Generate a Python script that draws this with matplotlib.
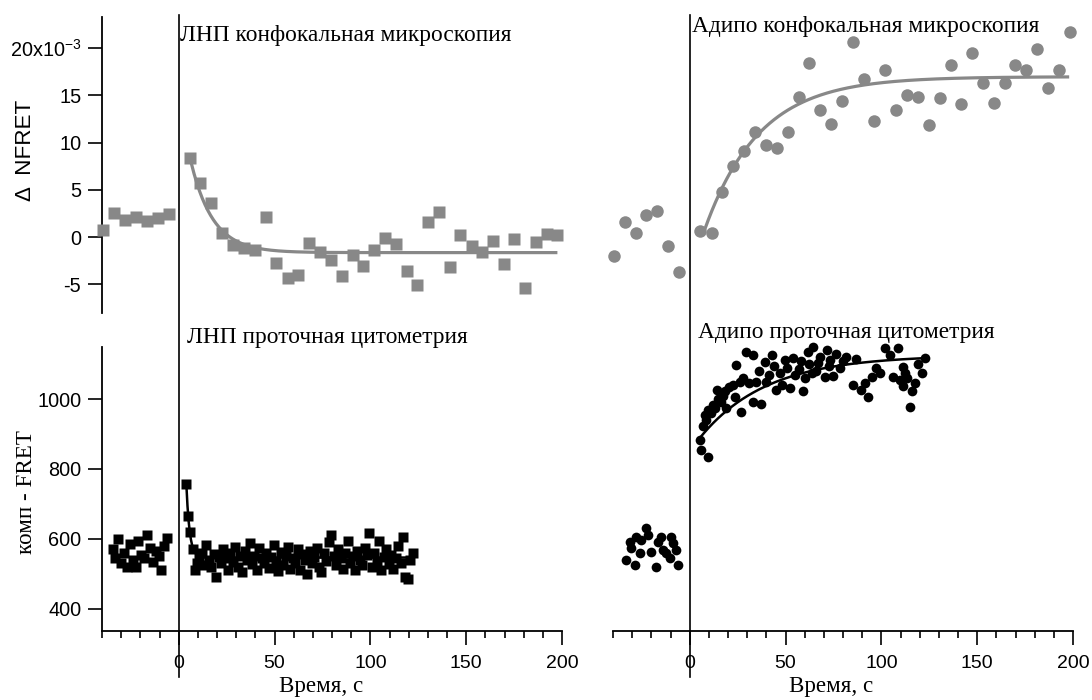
import numpy as np
import matplotlib
matplotlib.use("Agg")
import matplotlib.pyplot as plt
from matplotlib.lines import Line2D
from matplotlib.transforms import blended_transform_factory
from matplotlib.ticker import MultipleLocator, FixedLocator, FixedFormatter

# ---------------- data ----------------
# top-left: LDL confocal (units of 1e-3)
ldl_conf_pre_x = [-39.6, -33.9, -28.1, -22.4, -16.7, -10.9, -5.2]
ldl_conf_pre_y = [0.74, 2.5, 1.8, 2.1, 1.7, 2.0, 2.4]
ldl_conf_x = [5.7, 11.3, 16.8, 22.6, 28.3, 34.0, 39.9, 45.5, 51.0, 56.8, 62.3, 67.9,
              73.6, 79.3, 85.0, 90.8, 96.4, 102.1, 107.6, 113.3, 118.9, 124.6, 130.2,
              135.8, 141.5, 147.0, 152.8, 158.3, 164.1, 169.6, 175.2, 180.9, 186.5,
              192.0, 197.6]
ldl_conf_y = [8.4, 5.7, 3.6, 0.4, -0.8, -1.2, -1.4, 2.1, -2.8, -4.3, -4.0, -0.6,
              -1.6, -2.4, -4.1, -1.9, -3.1, -1.4, -0.1, -0.7, -3.6, -5.1, 1.6,
              2.6, -3.2, 0.2, -0.95, -1.55, -0.4, -2.9, -0.25, -5.4, -0.5,
              0.3, 0.2]
ldl_conf_fit = dict(x0=6.6, x1=197.6, plateau=-1.65, amp=9.45, tau=11.5)

# top-right: Adipo confocal (units of 1e-3)
adi_conf_pre_x = [-39.7, -33.9, -28.2, -22.6, -16.9, -11.1, -5.6]
adi_conf_pre_y = [-2.0, 1.6, 0.45, 2.3, 2.8, -0.9, -3.7]
adi_conf_x = [5.2, 11.5, 17.1, 22.6, 28.4, 34.3, 39.7, 45.6, 51.4, 56.9, 62.1, 68.0,
              73.8, 79.5, 85.3, 90.9, 96.4, 102.0, 107.9, 113.5, 119.2, 124.8, 130.4,
              136.1, 141.7, 147.4, 153.2, 158.7, 164.5, 169.9, 175.7, 181.4, 187.1,
              192.7, 198.4]
adi_conf_y = [0.67, 0.45, 4.8, 7.5, 9.1, 11.1, 9.7, 9.45, 11.1, 14.8, 18.4, 13.4,
              12.0, 14.4, 20.6, 16.7, 12.3, 17.7, 13.4, 15.0, 14.8, 11.8, 14.7,
              18.2, 14.1, 19.5, 16.3, 14.2, 16.3, 18.2, 17.7, 19.9, 15.8,
              17.7, 21.7]
adi_conf_fit = dict(x0=7.8, x1=198.0, plateau=16.96, amp=-16.2, tau=28.5)

# bottom-left: LDL flow cytometry
ldl_flow_pre_x = [-34.5, -33.0, -31.5, -30.0, -28.5, -27.0, -25.5, -24.0, -22.5, -21.0,
                  -19.5, -18.0, -16.5, -15.0, -13.5, -12.0, -10.5, -9.0, -7.5, -6.0]
ldl_flow_pre_y = [570, 545, 600, 530, 560, 520, 585, 540, 520, 595,
                  555, 545, 612, 575, 535, 565, 550, 510, 580, 603]
ldl_flow_x = [4.0, 4.9, 6.1, 7.4, 8.7, 9.5, 10.8, 12.0, 13.2, 14.5, 15.8, 17.0, 18.3,
              19.6, 20.8, 22.0, 23.3, 24.6, 25.8, 27.0, 28.3, 29.5, 30.8, 32.0, 33.3,
              34.5, 35.8, 37.0, 38.3, 39.5, 40.8, 42.0, 43.3, 44.5, 45.8, 47.0, 48.3,
              49.5, 50.8, 52.0, 53.3, 54.5, 55.8, 57.0, 58.3, 59.5, 60.8, 62.0, 63.3,
              64.5, 65.8, 67.0, 68.3, 69.5, 70.8, 72.0, 73.3, 74.5, 75.8, 77.0, 78.3,
              79.5, 80.8, 82.0, 83.3, 84.5, 85.8, 87.0, 88.3, 89.5, 90.8, 92.0, 93.3,
              94.5, 95.8, 97.0, 98.3, 99.5, 100.8, 102.0, 103.3, 104.5, 105.8, 107.0,
              108.3, 109.5, 110.8, 112.0, 113.3, 114.5, 115.8, 117.0, 118.3, 119.5,
              120.8, 122.0]
ldl_flow_y = [757, 667, 621, 571, 511, 530, 545, 560, 525, 583, 540, 520, 556,
              491, 548, 530, 570, 545, 512, 560, 535, 578, 520, 552, 505,
              565, 540, 588, 528, 550, 512, 575, 545, 530, 560, 518, 548,
              582, 535, 508, 563, 527, 552, 578, 515, 545, 530, 570, 512,
              558, 540, 500, 565, 532, 548, 575, 520, 505, 560, 538, 590,
              612, 550, 525, 570, 545, 515, 560, 595, 530, 550, 510, 565,
              540, 525, 575, 555, 617, 520, 560, 535, 595, 512, 548,
              570, 528, 555, 515, 545, 580, 530, 605, 490, 485,
              540, 560]
ldl_flow_fit = dict(x0=4.0, x1=123.0, plateau=547.0, amp=210.0, tau=1.7)

# bottom-right: Adipo flow cytometry
adi_flow_pre_x = [-33.0, -31.3, -30.4, -28.7, -27.8, -26.1, -25.2, -22.6, -21.8, -20.0,
                  -17.4, -16.5, -14.8, -13.9, -12.2, -10.4, -9.6, -8.7, -6.9, -6.1]
adi_flow_pre_y = [540, 592, 573, 526, 607, 559, 597, 631, 611, 564,
                  521, 592, 607, 569, 559, 545, 607, 588, 569, 526]
adi_flow_x = [5.2, 6.1, 7.0, 7.8, 8.5, 9.6, 9.6, 11.0, 12.2, 13.0, 14.0, 15.0, 16.5,
              17.5, 18.3, 19.2, 20.5, 22.6, 23.5, 24.4, 26.0, 27.0, 27.8, 29.6, 31.0,
              33.0, 33.0, 34.8, 36.0, 37.4, 39.2, 40.0, 41.5, 42.7, 44.0, 45.3, 47.0,
              48.0, 49.6, 51.0, 52.2, 54.0, 54.8, 57.0, 58.0, 59.2, 60.0, 61.8, 62.5,
              63.6, 64.4, 66.0, 67.0, 67.9, 70.5, 71.4, 72.5, 73.1, 75.0, 76.6, 78.3,
              80.0, 81.8, 85.3, 87.0, 89.6, 91.4, 93.1, 94.9, 97.0, 99.2, 101.8, 104.4,
              106.2, 108.8, 109.7, 111.4, 111.4, 112.3, 113.2, 115.0, 115.9, 117.5,
              119.0, 121.0, 122.7]
adi_flow_y = [883, 854, 923, 954, 940, 833, 969, 960, 983, 975, 1026, 1000, 992,
              1010, 1024, 974, 1035, 1040, 1005, 1097, 1050, 964, 1059, 1135, 1045,
              1126, 992, 1049, 1080, 987, 1107, 1049, 1070, 1126, 1095, 1026, 1074,
              1040, 1111, 1090, 1031, 1116, 1069, 1085, 1110, 1024, 1059, 1135, 1100,
              1074, 1149, 1080, 1102, 1121, 1064, 1140, 1095, 1111, 1065, 1130, 1088,
              1110, 1121, 1040, 1115, 1026, 1045, 1005, 1064, 1090, 1074, 1145, 1126,
              1064, 1145, 1054, 1092, 1036, 1074, 1059, 976, 1024, 1045,
              1100, 1074, 1116]
adi_flow_fit = dict(x0=5.2, x1=122.7, plateau=1125.0, amp=-237.0, tau=35.0)

x_major = [0, 50, 100, 150, 200]
x_labels = ["0", "50", "100", "150", "200"]
top_yticks = [-5, 0, 5, 10, 15, 20]
top_ylabels = ["-5", "0", "5", "10", "15", "20x10$^{\\mathregular{-3}}$"]
bot_yticks = [400, 600, 800, 1000]

# ---------------- styling ----------------
plt.rcParams["font.family"] = ["Liberation Sans", "DejaVu Sans"]
plt.rcParams["mathtext.fontset"] = "custom"
plt.rcParams["mathtext.rm"] = "Liberation Sans"
plt.rcParams["mathtext.it"] = "Liberation Sans"
plt.rcParams["mathtext.bf"] = "Liberation Sans"
SERIF = ["Liberation Serif", "DejaVu Serif"]
GRAY = "#888888"

W, H = 1092, 700
fig = plt.figure(figsize=(W / 100, H / 100), dpi=100)


def box(l, t, r, b):
    return [l / W, 1 - b / H, (r - l) / W, (b - t) / H]


ax_tl = fig.add_axes(box(102, 17, 562, 313))
ax_bl = fig.add_axes(box(102, 347, 562, 631))
ax_tr = fig.add_axes(box(613, 17, 1073, 313))
ax_br = fig.add_axes(box(613, 347, 1073, 631))

XLIM = (-40, 200)
TOP_YLIM = (-8.04, 23.28)
BOT_YLIM = (337.1, 1148.6)


def fit_curve(ax, p, color, lw):
    xs = np.linspace(p["x0"], p["x1"], 400)
    ys = p["plateau"] + p["amp"] * np.exp(-(xs - p["x0"]) / p["tau"])
    ax.plot(xs, ys, color=color, lw=lw, zorder=2, solid_capstyle="butt")


for ax in (ax_tl, ax_bl, ax_tr, ax_br):
    ax.set_xlim(*XLIM)
    ax.patch.set_alpha(0)
    for s in ax.spines.values():
        s.set_visible(False)
        s.set_linewidth(1.3)

for ax in (ax_tl, ax_tr):
    ax.set_ylim(*TOP_YLIM)
for ax in (ax_bl, ax_br):
    ax.set_ylim(*BOT_YLIM)

mk = dict(mec="none", zorder=3, clip_on=False, ls="none")
# top-left
ax_tl.plot(ldl_conf_pre_x, ldl_conf_pre_y, "s", color=GRAY, ms=9, **mk)
ax_tl.plot(ldl_conf_x, ldl_conf_y, "s", color=GRAY, ms=9, **mk)
fit_curve(ax_tl, ldl_conf_fit, GRAY, 2.3)
# top-right
ax_tr.plot(adi_conf_pre_x, adi_conf_pre_y, "o", color=GRAY, ms=9, **mk)
ax_tr.plot(adi_conf_x, adi_conf_y, "o", color=GRAY, ms=9, **mk)
fit_curve(ax_tr, adi_conf_fit, GRAY, 2.3)
# bottom-left
ax_bl.plot(ldl_flow_pre_x, ldl_flow_pre_y, "s", color="black", ms=6.8, **mk)
ax_bl.plot(ldl_flow_x, ldl_flow_y, "s", color="black", ms=6.8, **mk)
fit_curve(ax_bl, ldl_flow_fit, "black", 1.8)
# bottom-right
ax_br.plot(adi_flow_pre_x, adi_flow_pre_y, "o", color="black", ms=7, **mk)
ax_br.plot(adi_flow_x, adi_flow_y, "o", color="black", ms=7, **mk)
fit_curve(ax_br, adi_flow_fit, "black", 1.8)

# axes / ticks
for ax in (ax_tl, ax_tr):
    ax.tick_params(axis="x", which="both", bottom=False, labelbottom=False)
ax_tr.tick_params(axis="y", which="both", left=False, labelleft=False)
ax_br.tick_params(axis="y", which="both", left=False, labelleft=False)

ytick_kw = dict(labelsize=14.3, width=1.2, length=10, direction="out", pad=5)
ax_tl.spines["left"].set_visible(True)
ax_tl.yaxis.set_major_locator(FixedLocator(top_yticks))
ax_tl.yaxis.set_major_formatter(FixedFormatter(top_ylabels))
ax_tl.tick_params(axis="y", **ytick_kw)

ax_bl.spines["left"].set_visible(True)
ax_bl.spines["bottom"].set_visible(True)
ax_br.spines["bottom"].set_visible(True)
ax_bl.yaxis.set_major_locator(FixedLocator(bot_yticks))
ax_bl.tick_params(axis="y", **ytick_kw)

for ax in (ax_bl, ax_br):
    ax.xaxis.set_major_locator(FixedLocator(x_major))
    ax.xaxis.set_major_formatter(FixedFormatter(x_labels))
    ax.xaxis.set_minor_locator(MultipleLocator(10))
    ax.tick_params(axis="x", which="major", labelsize=14, width=1.2, length=10,
                   direction="out", pad=7)
    ax.tick_params(axis="x", which="minor", width=1.2, length=5, direction="out")

# x labels
fig.text(321.5 / W, 1 - 692 / H, "Время, с", family=SERIF, fontsize=16.6,
         ha="center", va="baseline")
fig.text(831.5 / W, 1 - 692 / H, "Время, с", family=SERIF, fontsize=16.6,
         ha="center", va="baseline")

# vertical lines at t = 0 across each column
for ax in (ax_bl, ax_br):
    tr = blended_transform_factory(ax.transData, fig.transFigure)
    fig.add_artist(Line2D([0, 0], [1 - 15 / H, 1 - 677 / H], transform=tr,
                          color="black", lw=1.2, zorder=5))

# y labels
fig.text(26 / W, 1 - 150 / H, "Δ  NFRET", rotation=90, ha="center", va="center",
         fontsize=16.2)
fig.text(27 / W, 1 - 492 / H, "комп - FRET", rotation=90, ha="center", va="center",
         fontsize=16.6, family=SERIF)

# panel labels
lab_kw = dict(family=SERIF, fontsize=16.8, va="baseline", ha="left")
fig.text(180 / W, 1 - 41 / H, "ЛНП конфокальная микроскопия", **lab_kw)
fig.text(692 / W, 1 - 32 / H, "Адипо конфокальная микроскопия", **lab_kw)
fig.text(187 / W, 1 - 343 / H, "ЛНП проточная цитометрия", **lab_kw)
fig.text(698 / W, 1 - 338 / H, "Адипо проточная цитометрия", **lab_kw)

fig.savefig("out.png", dpi=100, facecolor="white")
